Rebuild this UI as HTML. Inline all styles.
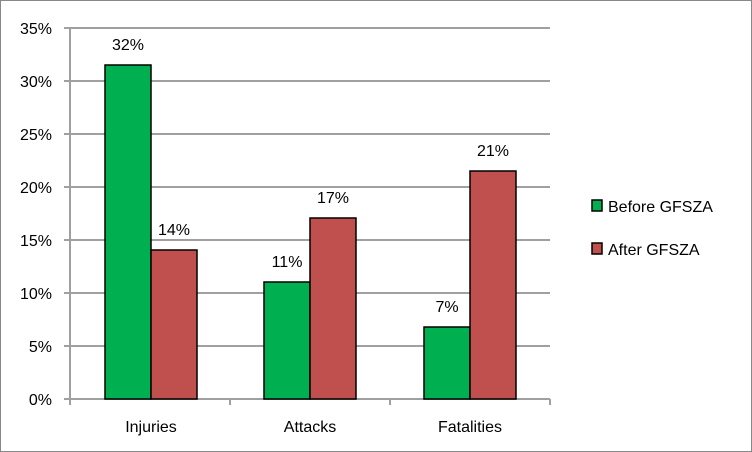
<!DOCTYPE html>
<html><head><style>body{margin:0;background:#fff}svg{display:block}text{font-family:"Liberation Sans",sans-serif;font-size:16px;fill:#000}</style></head><body>
<svg width="752" height="452" xmlns="http://www.w3.org/2000/svg">
<rect x="0.5" y="0.5" width="751" height="451" fill="#fff" stroke="#888"/>
<g stroke="#a0a0a0" stroke-width="2">
<line x1="64" y1="28" x2="550" y2="28"/><line x1="64" y1="81" x2="550" y2="81"/><line x1="64" y1="134" x2="550" y2="134"/><line x1="64" y1="187" x2="550" y2="187"/><line x1="64" y1="240" x2="550" y2="240"/><line x1="64" y1="293" x2="550" y2="293"/><line x1="64" y1="346" x2="550" y2="346"/><line x1="64" y1="399" x2="550" y2="399"/>
<line x1="70" y1="28" x2="70" y2="399"/>
<line x1="230" y1="399" x2="230" y2="405"/><line x1="390" y1="399" x2="390" y2="405"/><line x1="550" y1="399" x2="550" y2="405"/><line x1="70" y1="399" x2="70" y2="405"/>
</g>
<g stroke="#000" stroke-width="1.5">
<rect x="105" y="65" width="46" height="334" fill="#00b050"/>
<rect x="151" y="250" width="46" height="149" fill="#c0504d"/>
<rect x="264" y="282" width="46" height="117" fill="#00b050"/>
<rect x="310" y="218" width="46" height="181" fill="#c0504d"/>
<rect x="424" y="327" width="46" height="72" fill="#00b050"/>
<rect x="470" y="171" width="46" height="228" fill="#c0504d"/>
<rect x="592" y="200" width="10" height="11" fill="#00b050"/>
<rect x="592" y="243" width="10" height="11" fill="#c0504d"/>
</g>
<g text-anchor="end">
<text x="52" y="34">35%</text><text x="52" y="87">30%</text><text x="52" y="140">25%</text><text x="52" y="193">20%</text><text x="52" y="246">15%</text><text x="52" y="299">10%</text><text x="52" y="352">5%</text><text x="52" y="405">0%</text>
</g>
<g text-anchor="middle">
<text x="128" y="50">32%</text><text x="174" y="235">14%</text><text x="287" y="267">11%</text><text x="333" y="203">17%</text><text x="447" y="312">7%</text><text x="493" y="156">21%</text>
<text x="151" y="432">Injuries</text><text x="310" y="432">Attacks</text><text x="470" y="432">Fatalities</text>
</g>
<text x="608" y="212">Before GFSZA</text>
<text x="608" y="255">After GFSZA</text>
</svg>
</body></html>
